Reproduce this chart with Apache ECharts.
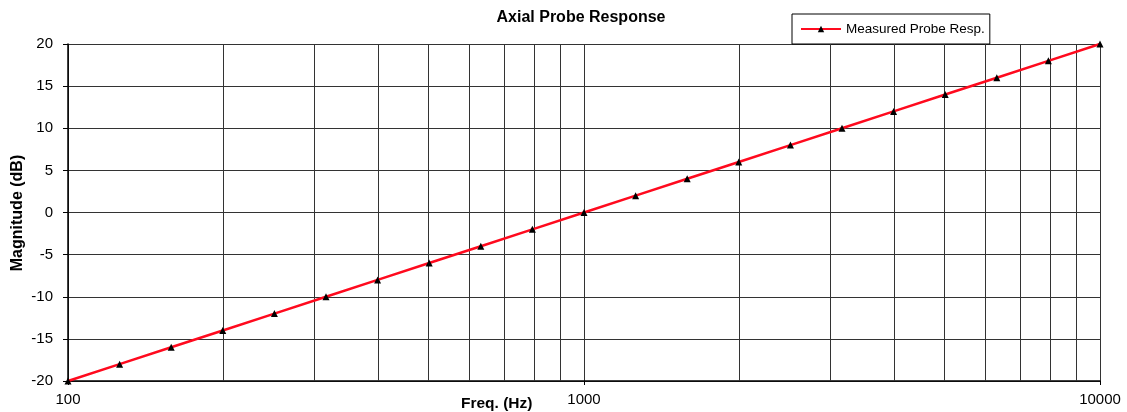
<!DOCTYPE html>
<html>
<head>
<meta charset="utf-8">
<script src="https://cdn.jsdelivr.net/npm/echarts@6/dist/echarts.min.js"></script>
<style>
  html, body { margin: 0; padding: 0; background: #fff; }
  #chart { width: 1127px; height: 412px; }
</style>
</head>
<body>
<div id="chart"></div>
<script>
// Measured axial probe response (frequency in Hz, magnitude in dB)
const freqHz = [100, 125.9, 158.5, 199.5, 251.2, 316.2, 398.1, 501.2, 631.0, 794.3,
                1000, 1259, 1585, 1995, 2512, 3162, 3981, 5012, 6310, 7943, 10000];
const magnitudeDb = [-20, -18, -16, -14, -12, -10, -8, -6, -4, -2,
                     0, 2, 4, 6, 8, 10, 12, 14, 16, 18, 20];
// Minor decade gridlines on the log frequency axis
const minorGridHz = [200, 300, 400, 500, 600, 700, 800, 900,
                     2000, 3000, 4000, 5000, 6000, 7000, 8000, 9000];

const font = 'Liberation Sans, Arial, sans-serif';
const chart = echarts.init(document.getElementById('chart'), null, { renderer: 'canvas' });

chart.setOption({
  animation: false,
  backgroundColor: '#fff',
  title: {
    text: 'Axial Probe Response',
    left: 576, top: 5, textAlign: 'center',
    textStyle: { fontFamily: font, fontSize: 16, fontWeight: 'bold', color: '#000' }
  },
  legend: {
    left: 792, top: 14,
    padding: [7, 5, 7, 8],
    itemWidth: 40, itemHeight: 8, itemGap: 4,
    borderColor: '#000', borderWidth: 1,
    backgroundColor: '#fff',
    textStyle: { fontFamily: font, fontSize: 13.5, color: '#000', lineHeight: 16 }
  },
  grid: { left: 68, right: 27, top: 44, bottom: 31 },
  xAxis: {
    type: 'log', logBase: 10, min: 100, max: 10000,
    axisLine: { onZero: false, lineStyle: { color: '#000', width: 1.5 } },
    axisTick: { show: true, length: 4, lineStyle: { color: '#000' } },
    axisLabel: { fontFamily: font, fontSize: 15, color: '#000', margin: 11,
                 formatter: v => String(Math.round(v)) },
    splitLine: { show: true, lineStyle: { color: '#333', width: 1 } }
  },
  yAxis: {
    type: 'value', min: -20, max: 20, interval: 5,
    axisLine: { show: true, lineStyle: { color: '#000', width: 1.5 } },
    axisTick: { show: true, length: 5, lineStyle: { color: '#000' } },
    axisLabel: { fontFamily: font, fontSize: 15, color: '#000', margin: 15 },
    splitLine: { show: true, lineStyle: { color: '#333', width: 1 } }
  },
  graphic: [
    {
      type: 'text', left: 461, top: 396,
      style: { text: 'Freq. (Hz)', font: 'bold 15.5px ' + font, fill: '#000' }
    },
    {
      type: 'text', x: 18, y: 213, rotation: Math.PI / 2,
      style: { text: 'Magnitude (dB)', font: 'bold 16px ' + font, fill: '#000',
               textAlign: 'center', textVerticalAlign: 'middle' }
    }
  ],
  series: [{
    name: 'Measured Probe Resp.',
    type: 'line',
    data: freqHz.map((f, i) => [f, magnitudeDb[i]]),
    symbol: 'triangle', symbolSize: 7,
    itemStyle: { color: '#000' },
    lineStyle: { color: '#ff0a1e', width: 2.5 },
    z: 5,
    markLine: {
      silent: true, symbol: 'none', animation: false,
      label: { show: false },
      lineStyle: { color: '#333', width: 1, type: 'solid' },
      data: minorGridHz.map(f => ({ xAxis: f }))
    }
  }]
});
</script>
</body>
</html>
